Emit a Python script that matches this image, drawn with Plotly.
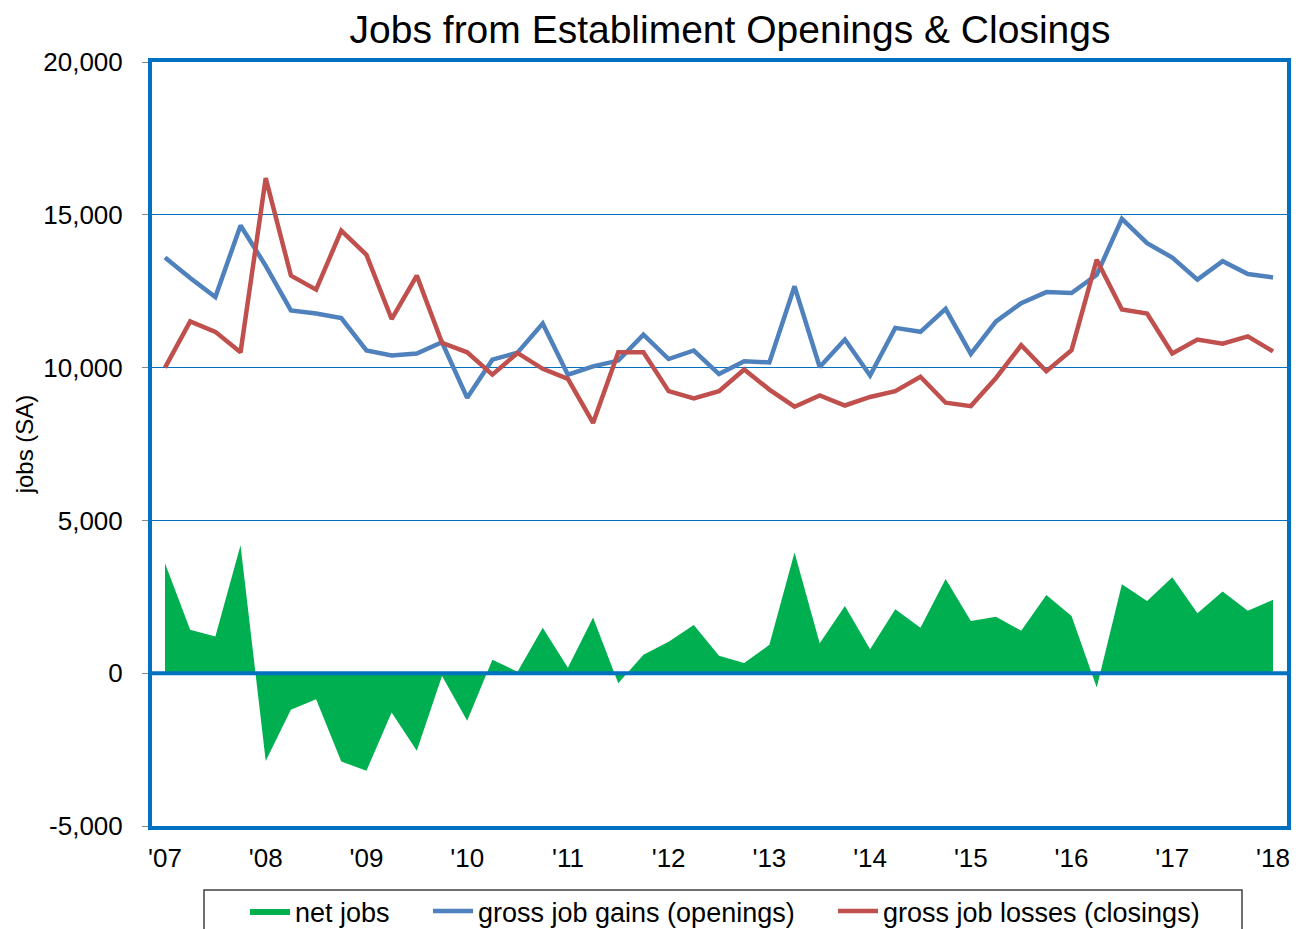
import plotly.graph_objects as go

# quarterly, 2007Q1 .. 2018Q1
quarters = [2007 + q / 4 for q in range(45)]

gross_gains = [13600, 12930, 12310, 14650, 13330, 11870, 11770, 11620, 10560, 10400,
               10460, 10830, 9010, 10260, 10490, 11440, 9770, 10040, 10230, 11080,
               10280, 10560, 9790, 10210, 10170, 12660, 10020, 10920, 9740, 11300,
               11170, 11920, 10450, 11510, 12110, 12470, 12440, 13040, 14870, 14070,
               13600, 12880, 13480, 13060, 12950]

gross_losses = [10000, 11510, 11170, 10500, 16200, 13010, 12550, 14480, 13690, 11590,
                13010, 10810, 10500, 9770, 10480, 9960, 9630, 8190, 10500, 10500,
                9230, 8990, 9230, 9940, 9280, 8720, 9090, 8760, 9040, 9230,
                9700, 8850, 8740, 9660, 10730, 9880, 10570, 13530, 11900, 11770,
                10460, 10920, 10780, 11020, 10530]

net_jobs = [3600, 1420, 1200, 4190, -2870, -1200, -850, -2890, -3190, -1290,
            -2540, -90, -1560, 440, 50, 1490, 180, 1820, -330, 600,
            1030, 1580, 570, 330, 930, 3950, 980, 2200, 780, 2090,
            1490, 3080, 1710, 1850, 1390, 2560, 1870, -470, 2910, 2360,
            3140, 1960, 2670, 2040, 2400]

year_ticks = list(range(2007, 2019))
year_labels = ["'%02d" % (y % 100) for y in year_ticks]

y_ticks = [-5000, 0, 5000, 10000, 15000, 20000]
y_labels = ["-5,000", "0", "5,000", "10,000", "15,000", "20,000"]

FONT = "Liberation Sans, Arial, sans-serif"
AXIS_BLUE = "#0070C0"

fig = go.Figure()
fig.add_trace(go.Scatter(x=quarters, y=net_jobs, name="net jobs", mode="lines",
                         fill="tozeroy", fillcolor="#00B050",
                         line=dict(width=0, color="#00B050"), legendwidth=128))
fig.add_trace(go.Scatter(x=quarters, y=gross_gains, name="gross job gains (openings)",
                         mode="lines", line=dict(width=4.5, color="#4F81BD"),
                         legendwidth=350))
fig.add_trace(go.Scatter(x=quarters, y=gross_losses, name="gross job losses (closings)",
                         mode="lines", line=dict(width=4.5, color="#C0504D")))

# thick zero line drawn over the area
fig.add_shape(type="line", xref="paper", x0=0, x1=1, yref="y", y0=0, y1=0,
              line=dict(color=AXIS_BLUE, width=4), layer="above")
# legend frame
fig.add_shape(type="rect", xref="paper", yref="paper",
              x0=(204 - 152) / 1135, x1=(1242 - 152) / 1135,
              y0=(826 - 890) / 764, y1=(826 - 960) / 764,
              line=dict(color="#404040", width=1.5), fillcolor="rgba(0,0,0,0)")

fig.update_layout(
    width=1296, height=929,
    margin=dict(l=152, r=9, t=62, b=103, autoexpand=False),
    paper_bgcolor="white", plot_bgcolor="white",
    font=dict(family=FONT, color="black"),
    title=dict(text="Jobs from Establiment Openings & Closings",
               font=dict(size=39, family=FONT, color="black"),
               xref="container", x=730 / 1296, xanchor="center",
               yref="container", y=1 - 29 / 929, yanchor="middle"),
    showlegend=True,
    legend=dict(orientation="h", xref="container", yref="container",
                x=245 / 1296, xanchor="left", y=1 - 887 / 929, yanchor="top",
                font=dict(size=27, family=FONT), itemwidth=40,
                bgcolor="rgba(0,0,0,0)", borderwidth=0),
)

fig.update_xaxes(
    range=[2006.871, 2018.139],
    tickvals=year_ticks, ticktext=year_labels,
    tickfont=dict(size=26, family=FONT),
    ticks="", ticklabelstandoff=6,
    showgrid=False, zeroline=False,
    showline=True, mirror=True, linecolor=AXIS_BLUE, linewidth=4,
)

fig.update_yaxes(
    range=[-5000, 20000], tickvals=y_ticks, ticktext=y_labels,
    tickfont=dict(size=26, family=FONT),
    ticks="outside", ticklen=6, tickcolor="#888888", tickwidth=1,
    ticklabelstandoff=14,
    showgrid=True, gridcolor=AXIS_BLUE, gridwidth=1,
    zeroline=False,
    showline=True, mirror=True, linecolor=AXIS_BLUE, linewidth=4,
    title=dict(text="jobs (SA)", font=dict(size=24, family=FONT), standoff=4),
)

fig.write_html("out.html", config={"displayModeBar": False},
               post_script="document.body.style.margin='0';")
